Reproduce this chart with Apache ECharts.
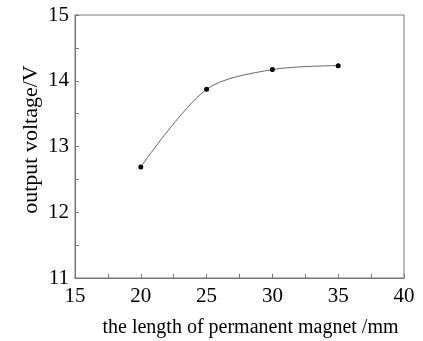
<!DOCTYPE html>
<html><head><meta charset="utf-8">
<script src="https://cdn.jsdelivr.net/npm/echarts@6/dist/echarts.min.js"></script>
<style>html,body{margin:0;padding:0;background:#fff}#c{width:423px;height:341px}</style>
</head><body><div id="c"></div>
<script>
const lengths = [20, 25, 30, 35];
const voltages = [12.69, 13.87, 14.17, 14.23];
const xName = 'the length of permanent magnet /mm';
const yName = 'output voltage/V';

const chart = echarts.init(document.getElementById('c'), null, {renderer: 'canvas'});
const font = 'Liberation Serif';
chart.setOption({
  animation: false,
  backgroundColor: '#fff',
  grid: {left: 75, top: 15, width: 329, height: 263, show: true, borderColor: '#777', borderWidth: 1, backgroundColor: 'transparent', containLabel: false, outerBoundsMode: 'none'},
  xAxis: {
    type: 'value', min: 15, max: 40, interval: 5,
    name: xName, nameLocation: 'middle', nameGap: 40,
    nameTextStyle: {fontFamily: font, fontSize: 20, color: '#000', padding: [0, 0, 0, 22]},
    axisLine: {show: true, lineStyle: {color: '#777'}},
    axisTick: {show: true, inside: true, length: 4, lineStyle: {color: '#777'}},
    minorTick: {show: true, splitNumber: 2, length: 4, lineStyle: {color: '#777'}},
    axisLabel: {fontFamily: font, fontSize: 21, color: '#000', margin: 8},
    splitLine: {show: false}
  },
  yAxis: {
    type: 'value', min: 11, max: 15, interval: 1,
    name: yName, nameLocation: 'middle', nameGap: 33, nameRotate: 90, nameMoveOverlap: false,
    nameTextStyle: {fontFamily: font, fontSize: 22, color: '#000', padding: [0, 0, 0, 14]},
    axisLine: {show: true, lineStyle: {color: '#777'}},
    axisTick: {show: true, inside: true, length: 4, lineStyle: {color: '#777'}},
    minorTick: {show: true, splitNumber: 2, length: 4, lineStyle: {color: '#777'}},
    axisLabel: {fontFamily: font, fontSize: 21, color: '#000', margin: 6},
    splitLine: {show: false}
  },
  series: [{
    type: 'line',
    data: lengths.map((x, i) => [x, voltages[i]]),
    smooth: 0.3,
    symbol: 'circle', symbolSize: 5,
    itemStyle: {color: '#000'},
    lineStyle: {color: '#666', width: 1}
  }]
});
</script></body></html>
